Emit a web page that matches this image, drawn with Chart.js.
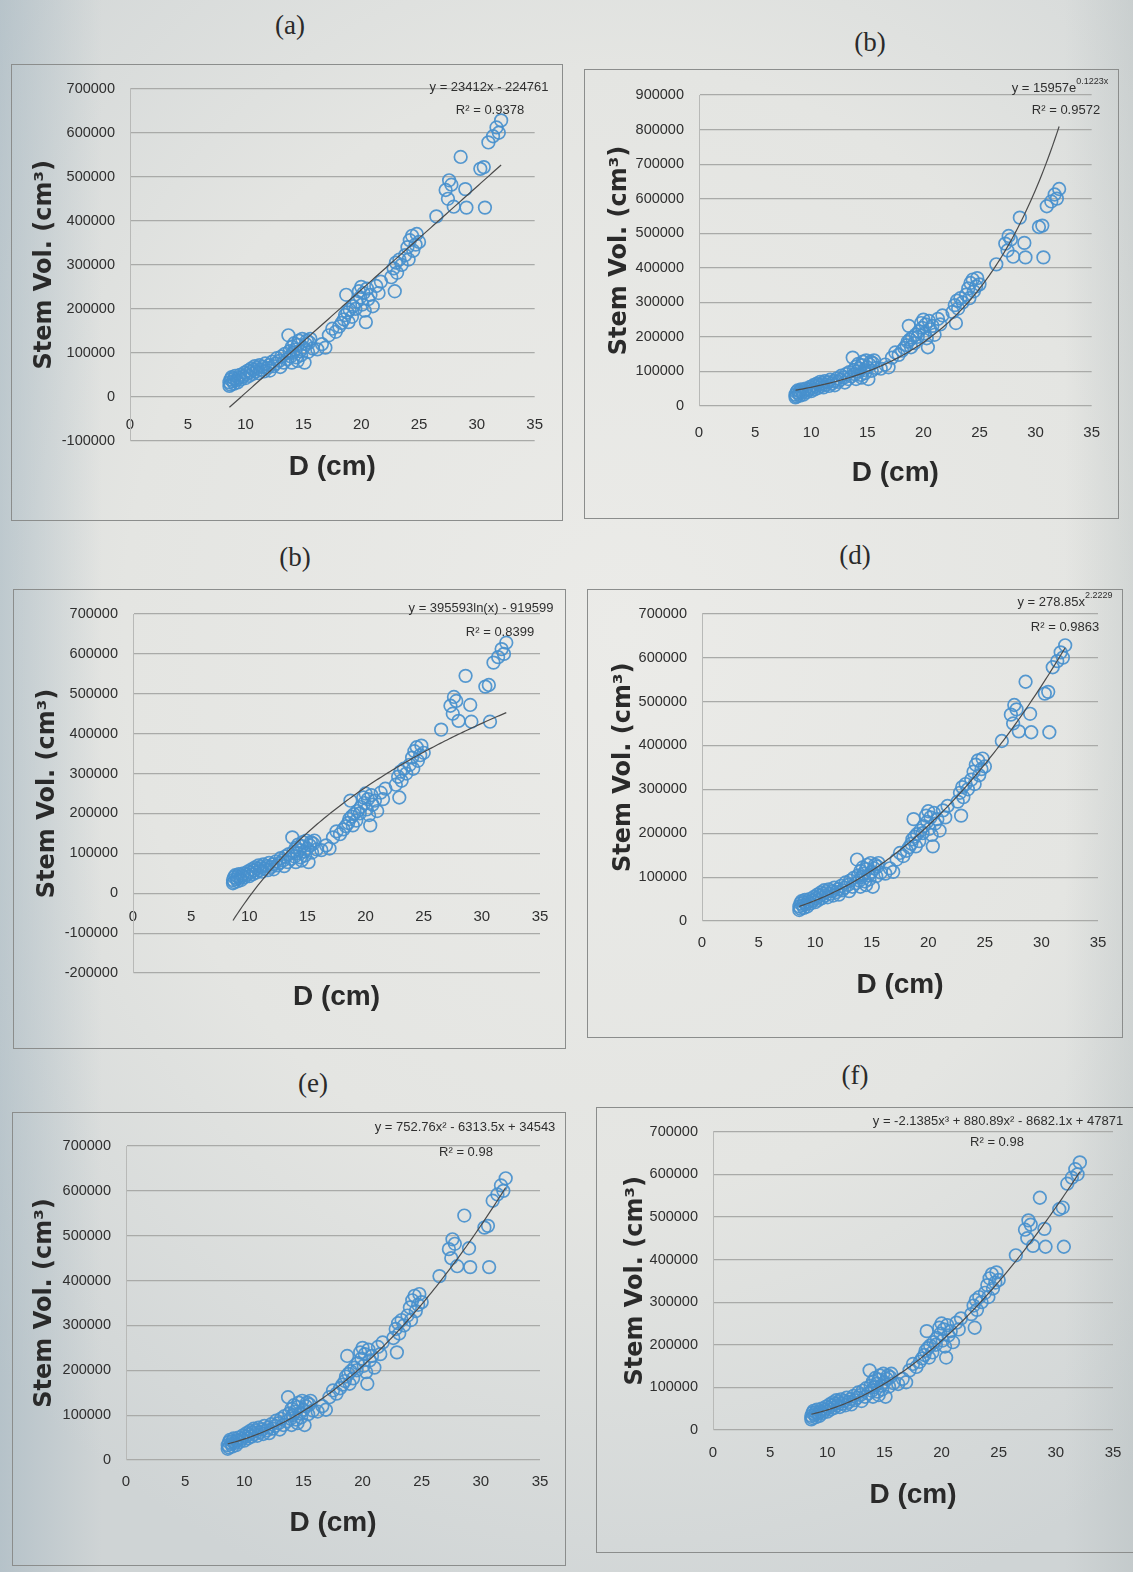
<!DOCTYPE html>
<html>
<head>
<meta charset="utf-8">
<title>Stem volume vs diameter – trendline fits</title>
<script src="https://cdn.jsdelivr.net/npm/chart.js@4.4.1/dist/chart.umd.min.js"></script>
<style>
  html, body { margin: 0; padding: 0; }
  body {
    width: 1133px; height: 1572px; position: relative; overflow: hidden;
    background:
      linear-gradient(to right, rgba(150,172,186,0.45) 0%, rgba(150,172,186,0) 9%),
      linear-gradient(to left, rgba(170,180,182,0.30) 0%, rgba(170,180,182,0) 6%),
      radial-gradient(ellipse 80% 65% at 55% 40%, #ebebe8 0%, #e4e5e2 55%, #cfd4d5 100%);
  }
  .panel { position: absolute; outline: 1.5px solid #8b8d8c; }
  .panel canvas { position: absolute; left: 0; top: 0; }
  .tag {
    position: absolute; transform: translate(-50%, -50%);
    font-family: 'Liberation Serif', 'DejaVu Serif', serif; font-size: 27px; color: #2a2a2a;
    white-space: nowrap;
  }
</style>
</head>
<body>
<script>
// ---- measured sample: diameter (cm) and stem volume (cm³) ----
const diameterCm = [
  8.6, 8.6, 8.7, 8.7, 8.8, 8.9, 9.0, 9.0, 9.1, 9.2, 9.3, 9.4, 9.5, 9.6, 9.8, 9.9,
  10.0, 10.1, 10.2, 10.3, 10.4, 10.5, 10.6, 10.7, 10.8, 10.9, 11.0, 11.1, 11.2, 11.3,
  11.5, 11.6, 11.7, 11.9, 12.0, 12.1, 12.3, 12.4, 12.6, 12.7, 12.9, 13.0, 13.1, 13.3,
  13.4, 13.6, 13.7, 13.8, 13.9, 14.0, 14.0, 14.1, 14.2, 14.3, 14.4, 14.5, 14.5, 14.6,
  14.7, 14.8, 14.9, 15.0, 15.1, 15.2, 15.3, 15.4, 15.5, 15.6, 15.8, 16.2, 16.6, 16.9,
  17.2, 17.5, 17.8, 18.1, 18.3, 18.5, 18.6, 18.7, 18.8, 18.9, 19.0, 19.2, 19.3, 19.5,
  19.6, 19.8, 19.9, 20.0, 20.1, 20.2, 20.3, 20.4, 20.5, 20.6, 20.8, 21.0, 21.3, 21.5,
  21.7, 22.6, 22.8, 22.9, 23.0, 23.1, 23.3, 23.5, 23.8, 24.0, 24.1, 24.2, 24.4, 24.5,
  24.7, 24.8, 25.0, 26.5, 27.3, 27.5, 27.6, 27.8, 28.0, 28.6, 29.0, 29.1, 30.3, 30.6,
  30.7, 31.0, 31.4, 31.7, 31.9, 32.1
];
const stemVolumeCm3 = [
  25000, 33000, 40000, 28000, 45000, 36000, 30000, 42000, 48000, 38000, 33000, 44000, 50000, 40000, 47000, 55000,
  43000, 52000, 60000, 48000, 57000, 65000, 52000, 62000, 70000, 58000, 66000, 54000, 72000, 62000,
  68000, 58000, 76000, 66000, 72000, 60000, 80000, 70000, 76000, 88000, 82000, 68000, 92000, 78000,
  98000, 86000, 140000, 104000, 92000, 114000, 78000, 100000, 122000, 108000, 90000, 118000, 82000, 128000,
  104000, 95000, 132000, 112000, 78000, 120000, 128000, 102000, 124000, 132000, 110000, 108000, 120000, 112000,
  140000, 155000, 148000, 160000, 168000, 176000, 186000, 232000, 192000, 170000, 198000, 182000, 206000, 200000,
  216000, 240000, 226000, 250000, 210000, 236000, 196000, 170000, 246000, 222000, 232000, 206000, 252000, 236000,
  262000, 272000, 292000, 240000, 305000, 282000, 312000, 300000, 322000, 340000, 312000, 356000, 366000, 332000,
  346000, 370000, 352000, 410000, 470000, 450000, 492000, 482000, 432000, 545000, 472000, 430000, 518000, 522000,
  430000, 578000, 592000, 612000, 600000, 628000
];

// ---- panel captions ----
const panelLetters = ['(a)', '(b)', '(b)', '(d)', '(e)', '(f)'];

// ---- axis ranges and ticks ----
const xTickMin = 0, xTickMax = 35, xTickStep = 5;
const yTickMin = [-100000, 0, -200000, 0, 0, 0];
const yTickMax = [700000, 900000, 700000, 700000, 700000, 700000];
const yTickStep = 100000;
const xAxisTitle = 'D (cm)';
const yAxisTitle = 'Stem Vol. (cm³)';

// ---- fitted trendline coefficients ----
const linearFit = [23412, -224761];               // y = a x + b
const expFit = [15957, 0.1223];                   // y = a e^(b x)
const logFit = [395593, -919599];                 // y = a ln(x) + b
const powerFit = [278.85, 2.2229];                // y = a x^b
const quadFit = [752.76, -6313.5, 34543];         // y = a x² + b x + c
const cubicFit = [-2.1385, 880.89, -8682.1, 47871]; // y = a x³ + b x² + c x + d

// equation labels; {s:...} parts are drawn as superscripts
const equationText = [
  [{t: 'y = 23412x - 224761'}],
  [{t: 'y = 15957e'}, {s: '0.1223x'}],
  [{t: 'y = 395593ln(x) - 919599'}],
  [{t: 'y = 278.85x'}, {s: '2.2229'}],
  [{t: 'y = 752.76x² - 6313.5x + 34543'}],
  [{t: 'y = -2.1385x³ + 880.89x² - 8682.1x + 47871'}]
];
const rSquaredText = ['R² = 0.9378', 'R² = 0.9572', 'R² = 0.8399', 'R² = 0.9863', 'R² = 0.98', 'R² = 0.98'];

const fitFunctions = [
  x => linearFit[0] * x + linearFit[1],
  x => expFit[0] * Math.exp(expFit[1] * x),
  x => logFit[0] * Math.log(x) + logFit[1],
  x => powerFit[0] * Math.pow(x, powerFit[1]),
  x => quadFit[0] * x * x + quadFit[1] * x + quadFit[2],
  x => cubicFit[0] * x * x * x + cubicFit[1] * x * x + cubicFit[2] * x + cubicFit[3]
];

// ---- page layout of the six panels (page pixels) ----
// l,t,r,b: panel frame; al,ar,at,ab: plot area; ytx: y-title centre x; xty: x-title centre y
const panelFrames = [
  {l: 12,  t: 65,   r: 562,  b: 520,  al: 130, ar: 537,  at: 85,   ab: 441,  ytx: 45,  xty: 467,  tag: [290, 25],   eq: [489, 87],   r2: [490, 110],  xlab: 28},
  {l: 585, t: 70,   r: 1118, b: 518,  al: 699, ar: 1097, at: 95,   ab: 406,  ytx: 620, xty: 473,  tag: [870, 42],   eq: [1060, 88],  r2: [1066, 110], xlab: 27},
  {l: 14,  t: 590,  r: 565,  b: 1048, al: 133, ar: 540,  at: 614,  ab: 973,  ytx: 48,  xty: 997,  tag: [295, 557],  eq: [481, 608],  r2: [500, 632],  xlab: 24},
  {l: 588, t: 590,  r: 1122, b: 1037, al: 702, ar: 1098, at: 612,  ab: 921,  ytx: 624, xty: 985,  tag: [855, 555],  eq: [1065, 602], r2: [1065, 627], xlab: 22},
  {l: 13,  t: 1113, r: 565,  b: 1565, al: 126, ar: 540,  at: 1146, ab: 1460, ytx: 45,  xty: 1523, tag: [313, 1083], eq: [465, 1127], r2: [466, 1152], xlab: 22},
  {l: 597, t: 1108, r: 1142, b: 1552, al: 713, ar: 1113, at: 1128, ab: 1430, ytx: 636, xty: 1495, tag: [855, 1075], eq: [998, 1121], r2: [997, 1142], xlab: 23}
];

const SANS = "'Liberation Sans', Arial, sans-serif";
const TEXT_COLOR = '#2f2f2f';
const MARKER_COLOR = 'rgba(72, 144, 205, 0.92)';
const GRID_COLOR = '#a9aaa8';

// draws the trendline equation and R² inside the plot
const fitLabelPlugin = {
  id: 'fitLabel',
  afterDraw(chart, args, opts) {
    const ctx = chart.ctx;
    ctx.save();
    ctx.fillStyle = TEXT_COLOR;
    ctx.textBaseline = 'middle';
    ctx.textAlign = 'left';
    const mainFont = '13px ' + SANS;
    const supFont = '9px ' + SANS;
    opts.lines.forEach(line => {
      let total = 0;
      line.parts.forEach(p => {
        ctx.font = p.s ? supFont : mainFont;
        total += ctx.measureText(p.s || p.t).width;
      });
      let x = line.cx - total / 2;
      line.parts.forEach(p => {
        ctx.font = p.s ? supFont : mainFont;
        const txt = p.s || p.t;
        ctx.fillText(txt, x, p.s ? line.cy - 6 : line.cy);
        x += ctx.measureText(txt).width;
      });
    });
    ctx.restore();
  }
};

const scatterPoints = diameterCm.map((d, i) => ({x: d, y: stemVolumeCm3[i]}));
const dMin = Math.min(...diameterCm), dMax = Math.max(...diameterCm);

panelFrames.forEach((g, i) => {
  const W = g.r - g.l, H = g.b - g.t;

  const tag = document.createElement('div');
  tag.className = 'tag';
  tag.style.left = g.tag[0] + 'px';
  tag.style.top = g.tag[1] + 'px';
  tag.textContent = panelLetters[i];
  document.body.appendChild(tag);

  const wrap = document.createElement('div');
  wrap.className = 'panel';
  wrap.style.left = g.l + 'px';
  wrap.style.top = g.t + 'px';
  wrap.style.width = W + 'px';
  wrap.style.height = H + 'px';
  const canvas = document.createElement('canvas');
  canvas.width = W; canvas.height = H;
  canvas.style.width = W + 'px'; canvas.style.height = H + 'px';
  wrap.appendChild(canvas);
  document.body.appendChild(wrap);

  // trendline sampled from the fitted equation across the data range
  const fit = fitFunctions[i];
  const trend = [];
  for (let k = 0; k <= 120; k++) {
    const x = dMin + (dMax - dMin) * k / 120;
    trend.push({x, y: fit(x)});
  }

  const titleFontSize = 28, titleLH = 34;
  const titlePadTop = g.xty - g.ab - titleLH / 2;
  const padBottom = H - (g.ab - g.t) - (titleLH + titlePadTop);
  const yTitleSize = 24;
  const yTitlePad = (g.ytx - g.l) - yTitleSize * 1.2 / 2;

  new Chart(canvas, {
    type: 'scatter',
    data: {
      datasets: [
        {
          data: trend, showLine: true, pointRadius: 0, borderColor: '#4b4b4b',
          borderWidth: 1.2, tension: 0, fill: false
        },
        {
          data: scatterPoints, pointStyle: 'circle', pointRadius: 6.3,
          borderColor: MARKER_COLOR, borderWidth: 1.7, backgroundColor: 'rgba(0,0,0,0)'
        }
      ]
    },
    options: {
      responsive: false, animation: false, devicePixelRatio: 1,
      layout: { padding: { left: 0, top: g.at - g.t, right: g.r - g.ar, bottom: padBottom } },
      plugins: {
        legend: { display: false },
        tooltip: { enabled: false },
        title: {
          display: true, text: xAxisTitle, position: 'bottom', fullSize: false,
          color: '#2a2a2a', font: { family: SANS, size: titleFontSize, weight: 'bold', lineHeight: titleLH / titleFontSize },
          padding: { top: titlePadTop, bottom: 0 }
        },
        fitLabel: {
          lines: [
            { parts: equationText[i], cx: g.eq[0] - g.l, cy: g.eq[1] - g.t },
            { parts: [{t: rSquaredText[i]}], cx: g.r2[0] - g.l, cy: g.r2[1] - g.t }
          ]
        }
      },
      scales: {
        x: {
          type: 'linear', min: xTickMin, max: xTickMax, position: { y: 0 },
          ticks: { stepSize: xTickStep, padding: g.xlab - 9, color: TEXT_COLOR,
                   font: { family: SANS, size: 15 }, maxRotation: 0 },
          grid: { display: false, drawTicks: false },
          border: { display: false }
        },
        y: {
          type: 'linear', position: 'left', min: yTickMin[i], max: yTickMax[i],
          ticks: { stepSize: yTickStep, padding: 15, color: TEXT_COLOR,
                   font: { family: SANS, size: 14.5 }, callback: v => String(v) },
          grid: { color: GRID_COLOR, lineWidth: 1.2, drawTicks: false },
          border: { color: '#b8b9b7', width: 1 },
          title: { display: true, text: yAxisTitle, color: '#2a2a2a',
                   font: { family: "'DejaVu Sans', Verdana, sans-serif", size: yTitleSize, weight: 'bold' },
                   padding: { top: yTitlePad, bottom: 0 } },
          afterFit: s => { s.width = g.al - g.l; }
        }
      }
    },
    plugins: [fitLabelPlugin]
  });
});
</script>
</body>
</html>
